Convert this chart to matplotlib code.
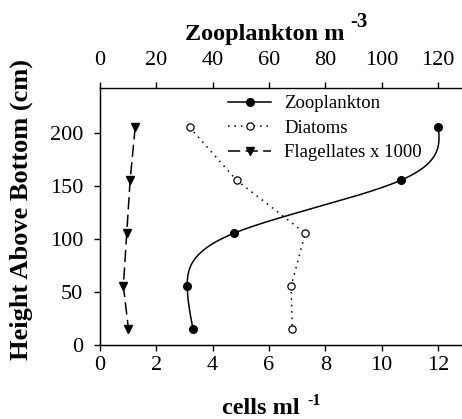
import numpy as np
import matplotlib
matplotlib.use("Agg")
import matplotlib.pyplot as plt
from matplotlib.lines import Line2D

plt.rcParams['font.family'] = ['Liberation Serif', 'DejaVu Serif']

# Data
height = [205, 155, 105, 55, 15]
zooplankton = [120.2, 106.9, 47.6, 31.0, 33.0]   # per m^3 (top axis)
diatoms = [3.18, 4.85, 7.29, 6.79, 6.83]         # cells/ml
flagellates = [1.25, 1.07, 0.95, 0.83, 1.01]     # cells/ml x 1000
bottom_ticks = [0, 2, 4, 6, 8, 10, 12]
top_ticks = [0, 20, 40, 60, 80, 100, 120]
y_ticks = [0, 50, 100, 150, 200]
labels = ['Zooplankton', 'Diatoms', 'Flagellates x 1000']

W, H = 462, 419
fig = plt.figure(figsize=(W / 100, H / 100), dpi=100)
ax = fig.add_axes([100 / W, (H - 344.5) / H, 364 / W, (344.5 - 88) / H])


def natural_spline(xk, yk, n=200):
    xk = np.asarray(xk, float)
    yk = np.asarray(yk, float)
    order = np.argsort(xk)
    xk, yk = xk[order], yk[order]
    m = len(xk)
    h = np.diff(xk)
    A = np.zeros((m, m))
    b = np.zeros(m)
    A[0, 0] = A[-1, -1] = 1
    for i in range(1, m - 1):
        A[i, i - 1] = h[i - 1]
        A[i, i] = 2 * (h[i - 1] + h[i])
        A[i, i + 1] = h[i]
        b[i] = 6 * ((yk[i + 1] - yk[i]) / h[i] - (yk[i] - yk[i - 1]) / h[i - 1])
    M = np.linalg.solve(A, b)
    xs = np.linspace(xk[0], xk[-1], n)
    idx = np.clip(np.searchsorted(xk, xs) - 1, 0, m - 2)
    x0, x1 = xk[idx], xk[idx + 1]
    hh = x1 - x0
    t1 = x1 - xs
    t0 = xs - x0
    ys = (M[idx] * t1 ** 3 / (6 * hh) + M[idx + 1] * t0 ** 3 / (6 * hh)
          + (yk[idx] / hh - M[idx] * hh / 6) * t1
          + (yk[idx + 1] / hh - M[idx + 1] * hh / 6) * t0)
    return xs, ys


dot_ls = (0, (1, 3.2))
dash_ls = (0, (8, 3.5))

ax.plot(diatoms, height, color='black', lw=1.1, linestyle=dot_ls,
        marker='o', markersize=5.2, markerfacecolor='white',
        markeredgecolor='black', markeredgewidth=0.9, zorder=3)
ax.plot(flagellates, height, color='black', lw=1.1, linestyle=dash_ls,
        marker='v', markersize=6, markerfacecolor='black',
        markeredgecolor='black', zorder=3)

ax.set_xlim(0, 12.93)
ax.set_ylim(0, 242)
ax.set_xticks(bottom_ticks)
ax.set_yticks(y_ticks)
ax.spines['right'].set_visible(False)
ax.spines['top'].set_visible(False)
for s in ['left', 'bottom']:
    ax.spines[s].set_linewidth(1.0)
ax.tick_params(axis='x', direction='out', length=4, width=1.0,
               labelsize=16, pad=4, labelfontfamily='Liberation Serif')
ax.tick_params(axis='y', direction='out', length=4, width=1.0,
               labelsize=16, pad=8, labelfontfamily='Liberation Serif')

ax2 = ax.twiny()
ys, xs = natural_spline(height, zooplankton)
ax2.plot(xs, ys, color='black', lw=1.1, zorder=3)
ax2.plot(zooplankton, height, linestyle='none', marker='o', markersize=5.5,
         color='black', zorder=4)
ax2.set_xlim(0, 129.3)
ax2.set_xticks(top_ticks)
ax2.spines['right'].set_visible(False)
ax2.spines['top'].set_linewidth(1.0)
ax2.tick_params(axis='x', direction='out', length=4, width=1.0,
                labelsize=16, pad=9, labelfontfamily='Liberation Serif')

# Axis titles (with raised exponents)
fig.text(185 / W, 1 - 40 / H, 'Zooplankton m', ha='left', va='baseline',
         fontsize=17.5, fontweight='bold')
fig.text(350 / W, 1 - 27 / H, '-3', ha='left', va='baseline',
         fontsize=15, fontweight='bold')
fig.text(222 / W, 1 - 414 / H, 'cells ml', ha='left', va='baseline',
         fontsize=17.5, fontweight='bold')
fig.text(307 / W, 1 - 405 / H, '-1', ha='left', va='baseline',
         fontsize=11.5, fontweight='bold')
fig.text(21 / W, 1 - 210 / H, 'Height Above Bottom (cm)', rotation=90,
         ha='center', va='center', fontsize=19, fontweight='bold')

handles = [
    Line2D([], [], color='black', lw=1.1, marker='o', markersize=5.5),
    Line2D([], [], color='black', lw=1.1, linestyle=dot_ls, marker='o',
           markersize=5.2, markerfacecolor='white', markeredgewidth=0.9),
    Line2D([], [], color='black', lw=1.1, linestyle=dash_ls, marker='v',
           markersize=6),
]
ax2.legend(handles, labels, loc='upper left',
           bbox_to_anchor=(228 / W, 1 - 95 / H), bbox_transform=fig.transFigure,
           frameon=False, fontsize=13.5, numpoints=1, handlelength=2.3,
           handletextpad=0.7, labelspacing=0.4, borderpad=0, borderaxespad=0)

fig.savefig('out.png', dpi=100)
